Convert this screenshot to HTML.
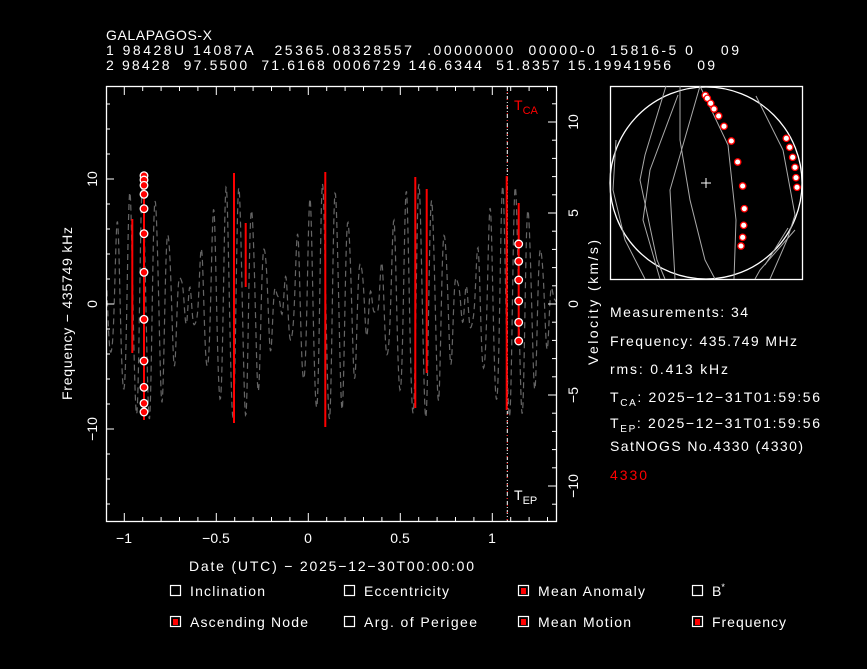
<!DOCTYPE html>
<html><head><meta charset="utf-8"><style>
html,body{margin:0;padding:0;background:#000;}
svg{display:block;}
text{font-family:"Liberation Sans",sans-serif;fill:#fff;font-size:14px;}
</style></head><body>
<svg id="s" width="867" height="669" viewBox="0 0 867 669" xmlns="http://www.w3.org/2000/svg">
<rect width="867" height="669" fill="#000"/>
<text x="106" y="40" textLength="106" lengthAdjust="spacing">GALAPAGOS-X</text>
<text x="106" y="55" xml:space="preserve" textLength="633" lengthAdjust="spacing">1 98428U 14087A   25365.08328557  .00000000  00000-0  15816-5 0    09</text>
<text x="106" y="70" xml:space="preserve" textLength="609" lengthAdjust="spacing">2 98428  97.5500  71.6168 0006729 146.6344  51.8357 15.19941956    09</text>
<g id="curve"></g>
<g id="ticks" stroke="#fff" stroke-width="1"></g>
<rect x="106.5" y="86.5" width="450" height="435" fill="none" stroke="#fff" stroke-width="1.3"/>
<line x1="507.3" y1="87" x2="507.3" y2="521" stroke="#fff" stroke-dasharray="4,2,1,2" stroke-width="1"/>
<line x1="507.3" y1="87" x2="507.3" y2="521" stroke="#f00" stroke-dasharray="1,6" stroke-dashoffset="-5" stroke-width="1"/>
<g stroke="#f00" stroke-width="2">
<line x1="132.3" y1="219" x2="132.3" y2="353"/>
<line x1="144" y1="175" x2="144" y2="420"/>
<line x1="234" y1="173" x2="234" y2="423"/>
<line x1="245.7" y1="223" x2="245.7" y2="287"/>
<line x1="325.3" y1="172" x2="325.3" y2="427"/>
<line x1="415.3" y1="177" x2="415.3" y2="408"/>
<line x1="426.7" y1="189" x2="426.7" y2="373"/>
<line x1="506.7" y1="176" x2="506.7" y2="410"/>
<line x1="518.7" y1="203" x2="518.7" y2="343"/>
</g>
<g id="pts" fill="#f00" stroke="#fff" stroke-width="1.3"></g>
<text x="514" y="110" style="fill:#f00" font-size="16">T<tspan font-size="11" dy="4">CA</tspan></text>
<text x="514" y="500" font-size="16">T<tspan font-size="11" dy="4">EP</tspan></text>
<g text-anchor="middle">
<text x="124" y="543">−1</text><text x="216" y="543">−0.5</text><text x="308" y="543">0</text><text x="400" y="543">0.5</text><text x="492" y="543">1</text>
</g>
<text x="189" y="571" textLength="285" lengthAdjust="spacing">Date (UTC) − 2025−12−30T00:00:00</text>
<g text-anchor="middle">
<text transform="translate(97,179) rotate(-90)">10</text>
<text transform="translate(97,304) rotate(-90)">0</text>
<text transform="translate(97,429) rotate(-90)">−10</text>
<text transform="translate(578,122) rotate(-90)">10</text>
<text transform="translate(578,213) rotate(-90)">5</text>
<text transform="translate(578,304) rotate(-90)">0</text>
<text transform="translate(578,395) rotate(-90)">−5</text>
<text transform="translate(578,486) rotate(-90)">−10</text>
</g>
<text transform="translate(72,400) rotate(-90)" textLength="173" lengthAdjust="spacing">Frequency − 435749 kHz</text>
<text transform="translate(598,365) rotate(-90)" textLength="125" lengthAdjust="spacing">Velocity (km/s)</text>
<rect x="610.5" y="86.5" width="192" height="193" fill="none" stroke="#fff" stroke-width="1.3"/>
<circle cx="706" cy="183" r="96" fill="none" stroke="#fff" stroke-width="1.3"/>
<g stroke="#aaa" fill="none" stroke-width="1">
<polyline points="666,86 645,155 640,180 657,260 665,279"/>
<polyline points="678,95 650,170 643,220 660,279"/>
<polyline points="680,86 680,140 690,200 705,260 715,279"/>
<polyline points="700,86 670,190 675,279"/>
<polyline points="616,140 613,190 625,240 645,279"/>
<polyline points="700,86 728,145 736,220 734,279"/>
<polyline points="756,96 783,150 795,215 787,240 770,279"/>
<polyline points="795,230 760,270 755,279"/>
<polyline points="788,228 765,265"/>
</g>
<g fill="#fff" stroke="#f00" stroke-width="1.3" id="sky"></g>
<line x1="701" y1="183" x2="711" y2="183" stroke="#fff"/><line x1="706" y1="178" x2="706" y2="188" stroke="#fff"/>
<text x="610" y="317" textLength="138" lengthAdjust="spacing">Measurements: 34</text>
<text x="610" y="346" textLength="187" lengthAdjust="spacing">Frequency: 435.749 MHz</text>
<text x="610" y="374" textLength="118" lengthAdjust="spacing">rms: 0.413 kHz</text>
<text x="610" y="402" textLength="210" lengthAdjust="spacing">T<tspan font-size="10" dy="4">CA</tspan><tspan dy="-4">: 2025−12−31T01:59:56</tspan></text>
<text x="610" y="428" textLength="210" lengthAdjust="spacing">T<tspan font-size="10" dy="4">EP</tspan><tspan dy="-4">: 2025−12−31T01:59:56</tspan></text>
<text x="610" y="451" textLength="193" lengthAdjust="spacing">SatNOGS No.4330 (4330)</text>
<text x="610" y="480" style="fill:#f00" textLength="37" lengthAdjust="spacing">4330</text>
<g fill="none" stroke="#fff" stroke-width="1.2">
<rect x="170.5" y="585.5" width="10" height="10"/><rect x="344.5" y="585.5" width="10" height="10"/><rect x="518.5" y="585.5" width="10" height="10"/><rect x="692.5" y="585.5" width="10" height="10"/>
<rect x="170.5" y="616.5" width="10" height="10"/><rect x="344.5" y="616.5" width="10" height="10"/><rect x="518.5" y="616.5" width="10" height="10"/><rect x="692.5" y="616.5" width="10" height="10"/>
</g>
<g fill="#f00"><rect x="521" y="588" width="5" height="6"/><rect x="173" y="619" width="5" height="6"/><rect x="521" y="619" width="5" height="6"/><rect x="695" y="619" width="5" height="6"/></g>
<text x="190" y="596" textLength="75" lengthAdjust="spacing">Inclination</text>
<text x="364" y="596" textLength="85" lengthAdjust="spacing">Eccentricity</text>
<text x="538" y="596" textLength="107" lengthAdjust="spacing">Mean Anomaly</text>
<text x="712" y="596">B<tspan font-size="9" dy="-6">*</tspan></text>
<text x="190" y="627" textLength="118" lengthAdjust="spacing">Ascending Node</text>
<text x="364" y="627" textLength="113" lengthAdjust="spacing">Arg. of Perigee</text>
<text x="538" y="627" textLength="93" lengthAdjust="spacing">Mean Motion</text>
<text x="712" y="627" textLength="74" lengthAdjust="spacing">Frequency</text>
</svg>
<script>
var NS="http://www.w3.org/2000/svg";
function el(p,t,a){var e=document.createElementNS(NS,t);for(var k in a)e.setAttribute(k,a[k]);p.appendChild(e);return e;}
var d="";
for(var px=107;px<=556;px+=0.5){
 var t=(px-308.3)/184;
 var f=5*Math.sin(2*Math.PI*(t+0.9)*15.31+Math.PI/2)+4.3*Math.sin(2*Math.PI*(t+0.9)*13.31+Math.PI/2)+0.6*Math.sin(2*Math.PI*t*30.6);
 var y=304-12.5*f;
 d+=(d?"L":"M")+px.toFixed(1)+","+y.toFixed(1);
}
el(document.getElementById("curve"),"path",{d:d,fill:"none",stroke:"#666","stroke-width":1.2,"stroke-dasharray":"6,4"});
var tk=document.getElementById("ticks");
for(var v=-1.1;v<=1.35;v+=0.1){var x=308.3+184*Math.round(v*10)/10;if(x<107||x>556)continue;var mj=Math.abs(Math.round(v*10)%5)==0;var L=mj?8:4;
 el(tk,"line",{x1:x,y1:521,x2:x,y2:521-L});el(tk,"line",{x1:x,y1:87,x2:x,y2:87+L});}
for(var k=-17;k<=17;k++){var y=304-12.5*k;if(y<87||y>521)continue;if(k%2==0){el(tk,"line",{x1:106,y1:y,x2:106+(k%10==0?8:4),y2:y});}}
for(var k=-11;k<=11;k++){var y=304-18.2*k;if(y<87||y>521)continue;el(tk,"line",{x1:556,y1:y,x2:556-(k%5==0?8:4),y2:y});}
var pg=document.getElementById("pts");
[175.7,180,185.3,194.3,208.7,233.7,272.3,319.3,361,387.3,403.3,412].forEach(function(y){el(pg,"circle",{cx:144,cy:y,r:3.8});});
[244,261.3,280,301,322.3,341].forEach(function(y){el(pg,"circle",{cx:518.7,cy:y,r:3.8});});
var sk=document.getElementById("sky");
[[316,46],[322,55],[332,70],[342,87],[356,108],[372,139],[394,183],[413,246],[428,318],[433,386],[431,436],[428,472],[423,498],[559,175],[569,202],[578,232],[585,262],[588,293],[591,322]].forEach(function(p){el(sk,"circle",{cx:600+p[0]/3,cy:80+p[1]/3,r:3.2});});
</script>
</body></html>
